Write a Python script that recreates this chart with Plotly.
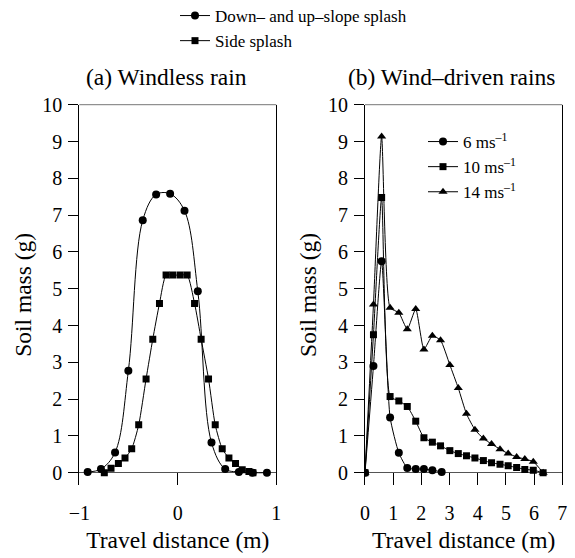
import plotly.graph_objects as go

# ---------------- data ----------------
# (a) Windless rain
a_circ_x = [-0.915, -0.78, -0.637, -0.502, -0.356, -0.22, -0.078, 0.068, 0.203, 0.342, 0.481, 0.62, 0.76, 0.905]
a_circ_y = [0.02, 0.1, 0.55, 2.77, 6.86, 7.56, 7.58, 7.12, 4.93, 0.82, 0.1, 0.02, 0.0, 0.0]
a_sq_x = [-0.746, -0.678, -0.603, -0.536, -0.468, -0.397, -0.322, -0.254, -0.186, -0.119, -0.051, 0.024, 0.095,
          0.17, 0.237, 0.312, 0.38, 0.451, 0.519, 0.586, 0.654, 0.722, 0.763]
a_sq_y = [0.0, 0.12, 0.25, 0.4, 0.65, 1.3, 2.55, 3.63, 4.6, 5.37, 5.37, 5.37, 5.37,
          4.6, 3.63, 2.55, 1.3, 0.65, 0.4, 0.25, 0.08, 0.03, 0.0]

# (b) Wind-driven rains
b6_x = [0, 0.3, 0.59, 0.89, 1.2, 1.5, 1.8, 2.09, 2.39, 2.72]
b6_y = [0, 2.9, 5.75, 1.5, 0.54, 0.13, 0.1, 0.1, 0.07, 0.02]
b10_x = [0, 0.3, 0.59, 0.89, 1.2, 1.5, 1.8, 2.09, 2.39, 2.68, 3.01, 3.31, 3.6, 3.9, 4.2, 4.49, 4.79, 5.08, 5.38, 5.67, 5.97, 6.32]
b10_y = [0, 3.75, 7.48, 2.07, 1.95, 1.8, 1.4, 0.95, 0.83, 0.73, 0.6, 0.52, 0.46, 0.4, 0.33, 0.27, 0.23, 0.19, 0.14, 0.09, 0.07, 0.0]
b14_x = [0, 0.3, 0.59, 0.89, 1.2, 1.5, 1.8, 2.09, 2.39, 2.68, 3.01, 3.31, 3.6, 3.9, 4.2, 4.49, 4.79, 5.08, 5.38, 5.67, 5.97, 6.32]
b14_y = [0, 4.57, 9.14, 4.48, 4.35, 3.9, 4.45, 3.35, 3.72, 3.6, 2.93, 2.3, 1.6, 1.17, 0.93, 0.78, 0.64, 0.52, 0.43, 0.37, 0.3, 0.0]

a_names = ["Down– and up–slope splash", "Side splash"]
b_names = ["6 ms<sup>–1</sup>", "10 ms<sup>–1</sup>", "14 ms<sup>–1</sup>"]
panel_titles = ["(a) Windless rain", "(b) Wind–driven rains"]
x_title = "Travel distance (m)"
y_title = "Soil mass (g)"

# ---------------- figure ----------------
W, H = 575, 558
FONT = "'Liberation Serif', 'Times New Roman', Times, serif"
fig = go.Figure()

fig.add_trace(go.Scatter(x=a_circ_x, y=a_circ_y, mode="lines+markers", name=a_names[0],
                         line=dict(color="black", width=1, shape="spline", smoothing=1.0),
                         marker=dict(symbol="circle", size=8, color="black"),
                         xaxis="x", yaxis="y", legend="legend"))
fig.add_trace(go.Scatter(x=a_sq_x, y=a_sq_y, mode="lines+markers", name=a_names[1],
                         line=dict(color="black", width=1, shape="spline", smoothing=0.6),
                         marker=dict(symbol="square", size=7, color="black"),
                         xaxis="x", yaxis="y", legend="legend"))

for xs, ys, nm, sym in [(b6_x, b6_y, b_names[0], "circle"),
                        (b10_x, b10_y, b_names[1], "square"),
                        (b14_x, b14_y, b_names[2], "triangle-up")]:
    fig.add_trace(go.Scatter(x=xs, y=ys, mode="lines+markers", name=nm,
                             line=dict(color="black", width=1, shape="spline", smoothing=0.5),
                             marker=dict(symbol=sym, size=8 if sym != "square" else 7, color="black"),
                             xaxis="x2", yaxis="y2", legend="legend2"))

ydom = [1 - 485 / H, 1 - 104.7 / H]
xdom_a = [79.3 / W, 276.3 / W]
xdom_b = [365 / W, 562.3 / W]

tickfont = dict(family=FONT, size=20, color="black")
titlefont = dict(family=FONT, size=23.5, color="black")

def xax(dom, rng, dtick):
    return dict(domain=dom, range=rng, dtick=dtick, tick0=0, showline=False, showgrid=False,
                zeroline=False, ticks="inside", ticklen=12, tickcolor="black", tickwidth=1,
                tickfont=tickfont, ticklabelstandoff=14, automargin=False,
                title=dict(text=x_title, font=titlefont, standoff=8))

def yax(dom, anchor):
    return dict(domain=dom, anchor=anchor, range=[-0.334, 10.001], dtick=1, tick0=0,
                showline=True, linecolor="black", linewidth=1, mirror=True, showgrid=False,
                zeroline=True, zerolinecolor="#555555", zerolinewidth=1,
                ticks="outside", ticklen=10, tickcolor="black", tickwidth=1,
                tickfont=tickfont, ticklabelstandoff=2, automargin=False,
                title=dict(text=y_title, font=titlefont, standoff=4))

fig.update_layout(
    width=W, height=H, autosize=False,
    margin=dict(l=0, r=0, t=0, b=0, autoexpand=False),
    paper_bgcolor="white", plot_bgcolor="white",
    font=dict(family=FONT, color="black"),
    xaxis=dict(**xax(xdom_a, [-1, 1], 1), anchor="y"),
    yaxis=yax(ydom, "x"),
    xaxis2=dict(**xax(xdom_b, [0, 7], 1), anchor="y2"),
    yaxis2=yax(ydom, "x2"),
    legend=dict(x=175 / W, y=1 + 2 / H, xanchor="left", yanchor="top",
                font=dict(family=FONT, size=17, color="black"), bgcolor="rgba(0,0,0,0)",
                itemwidth=30),
    legend2=dict(x=423 / W, y=1 - 124 / H, xanchor="left", yanchor="top",
                 font=dict(family=FONT, size=17, color="black"), bgcolor="rgba(0,0,0,0)",
                 itemwidth=30),
    showlegend=True,
)

# top frame lines
for xr, yr in [("x domain", "y domain"), ("x2 domain", "y2 domain")]:
    fig.add_shape(type="line", xref=xr, yref=yr, x0=0, x1=1, y0=1, y1=1,
                  line=dict(color="#777777", width=1))

# panel titles
fig.add_annotation(text=panel_titles[0], xref="paper", yref="paper", x=166 / W, y=1 - 77 / H,
                   showarrow=False, font=titlefont, xanchor="center", yanchor="middle")
fig.add_annotation(text=panel_titles[1], xref="paper", yref="paper", x=451 / W, y=1 - 77 / H,
                   showarrow=False, font=titlefont, xanchor="center", yanchor="middle")

fig.write_html("out.html")
